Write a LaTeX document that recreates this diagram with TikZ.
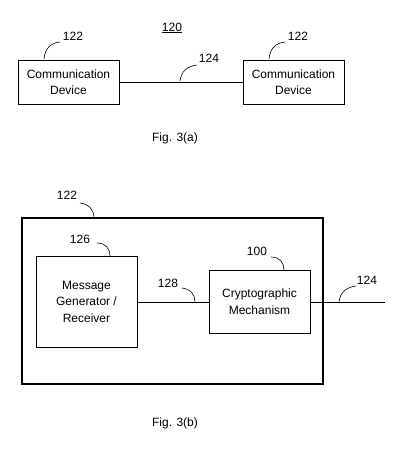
\documentclass[tikz,border=0pt]{standalone}
\usepackage{fontspec}
\setmainfont{Liberation Sans}
\tikzset{
	unitbox/.style={draw, line width=0.8pt, inner sep=0pt, align=center, font=\fontsize{12}{16.5}\selectfont},
	refnum/.style={font=\fontsize{12}{13}\selectfont, inner sep=1pt},
	leader/.style={line width=0.6pt},
	wire/.style={line width=0.8pt}
}
\begin{document}
\begin{tikzpicture}[x=1pt, y=-1pt]
		\useasboundingbox (0, 0) rectangle (403, 456);
		
		% Fig. 3(a)
		\node[unitbox, minimum width=101pt, minimum height=44pt] (devA) at (68.5, 82) {Communication\\Device};
		\node[unitbox, minimum width=101pt, minimum height=44pt] (devB) at (293.5, 82) {Communication\\Device};
		\draw[wire] (devA.east) -- (devB.west);
		
		\node[refnum] (num120) at (172, 28) {\underline{120}};
		\node[refnum] (num122a) at (73, 36) {122};
		\node[refnum] (num122b) at (298, 36) {122};
		\node[refnum] (num124a) at (209, 58) {124};
		
		\draw[leader] (44, 59) .. controls (45, 48) and (51, 43) .. (60, 42);
		\draw[leader] (269, 59) .. controls (270, 48) and (276, 43) .. (285, 42);
		\draw[leader] (180, 81) .. controls (181, 71) and (188, 66) .. (197, 65);
		
		\node[refnum] (figA) at (175, 138) {Fig. 3(a)};
		
		% Fig. 3(b)
		\node[draw, line width=2pt, minimum width=301pt, minimum height=166pt, inner sep=0pt] (outer) at (172.5, 301) {};
		\node[unitbox, minimum width=101pt, minimum height=91pt] (msg) at (86.5, 301.5) {Message\\Generator /\\Receiver};
		\node[unitbox, minimum width=101pt, minimum height=63pt] (crypt) at (259.5, 301.5) {Cryptographic\\Mechanism};
		\coordinate (linkEnd) at (385, 302);
		\draw[wire] (msg.east |- 0, 302) -- (crypt.west |- 0, 302);
		\draw[wire] (crypt.east |- 0, 302) -- (linkEnd);
		
		\node[refnum] (num122c) at (67, 195) {122};
		\node[refnum] (num126) at (80, 239) {126};
		\node[refnum] (num100) at (257, 251) {100};
		\node[refnum] (num128) at (168, 283) {128};
		\node[refnum] (num124b) at (367, 280) {124};
		
		\draw[leader] (80, 203) .. controls (89, 204) and (94, 210) .. (94, 218);
		\draw[leader] (97, 243) .. controls (106, 243) and (110, 249) .. (110, 256);
		\draw[leader] (271, 257) .. controls (280, 257) and (284, 263) .. (284, 270);
		\draw[leader] (182, 288) .. controls (191, 289) and (195, 295) .. (195, 302);
		\draw[leader] (339, 302) .. controls (340, 292) and (347, 287) .. (356, 286);
		
		\node[refnum] (figB) at (175, 423) {Fig. 3(b)};
	\end{tikzpicture}
\end{document}
